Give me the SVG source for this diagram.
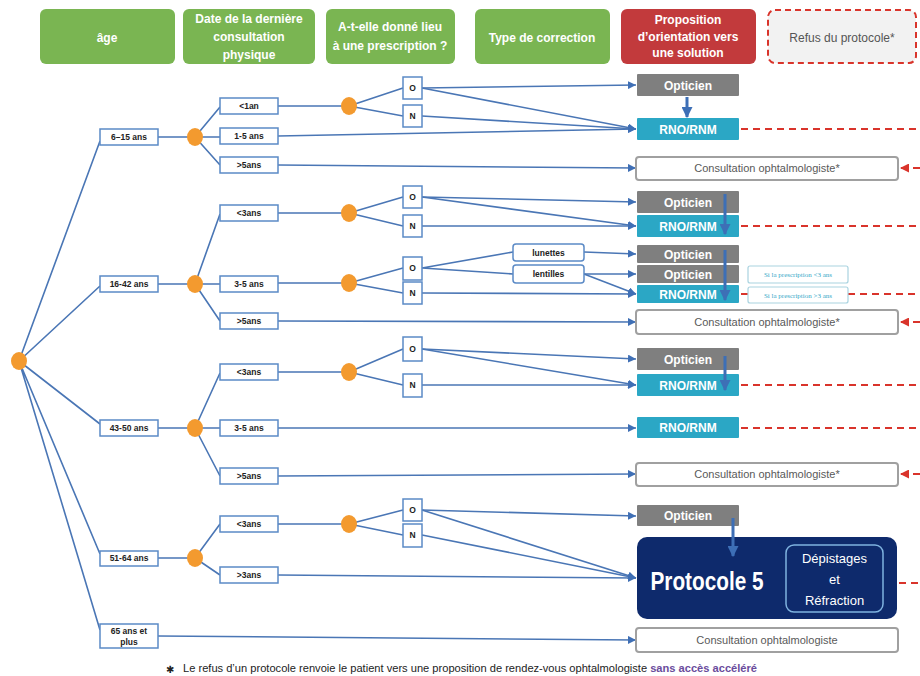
<svg xmlns="http://www.w3.org/2000/svg" width="920" height="676" viewBox="0 0 920 676">
<defs>
<style>
.hg{fill:#7ab552}
.ht{font-family:"Liberation Sans",Arial,sans-serif;font-weight:bold;font-size:12px;fill:#fff;text-anchor:middle}
.c{stroke:#4a76b5;stroke-width:1.6;fill:none}
.ca{stroke:#4a76b5;stroke-width:1.6;fill:none;marker-end:url(#ab)}
.va{stroke:#3d6fb6;stroke-width:3;fill:none;marker-end:url(#abig)}
.rd{stroke:#d9342b;stroke-width:2;fill:none;stroke-dasharray:7 5}
.rda{stroke:#d9342b;stroke-width:2;fill:none;stroke-dasharray:7 5;marker-end:url(#ar)}
.bx{fill:#fff;stroke:#5b8ac6;stroke-width:1.5}
.rbx{fill:#fff;stroke:#5b8ac6;stroke-width:1.5}
.dot{fill:#f39a2f}
.t{font-family:"Liberation Sans",Arial,sans-serif;font-weight:bold;font-size:8.5px;fill:#222;text-anchor:middle}
.opt{fill:#7f7f7f}
.rno{fill:#2ba7c5}
.wt{font-family:"Liberation Sans",Arial,sans-serif;font-weight:bold;font-size:12px;fill:#fff;text-anchor:middle}
.cons{fill:#fff;stroke:#a0a0a0;stroke-width:2}
.ct{font-family:"Liberation Sans",Arial,sans-serif;font-size:11px;fill:#595959;text-anchor:middle}
.si{fill:#fff;stroke:#a9d3e0;stroke-width:1.2}
.st{font-family:"Liberation Serif",serif;font-size:7px;fill:#35a8c8;text-anchor:middle}
</style>
<marker id="ab" viewBox="0 0 10 10" refX="10" refY="5" markerWidth="8" markerHeight="8" markerUnits="userSpaceOnUse" orient="auto"><path d="M0,0 L10,5 L0,10 z" fill="#3f6fb5"/></marker>
<marker id="abig" viewBox="0 0 10 10" refX="9" refY="5" markerWidth="11" markerHeight="11" markerUnits="userSpaceOnUse" orient="auto"><path d="M0,0 L10,5 L0,10 z" fill="#3d6fb6"/></marker>
<marker id="ar" viewBox="0 0 10 10" refX="10" refY="5" markerWidth="9" markerHeight="9" markerUnits="userSpaceOnUse" orient="auto"><path d="M0,0 L10,5 L0,10 z" fill="#d9342b"/></marker>
</defs>
<rect width="920" height="676" fill="#fff"/>

<!-- headers -->
<g id="h-age"><rect class="hg" x="40" y="9" width="135" height="55" rx="6"/><text class="ht" x="107" y="42">âge</text></g>
<g id="h-date"><rect class="hg" x="183" y="9" width="132" height="55" rx="6"/><text class="ht" x="249" y="23">Date de la dernière</text><text class="ht" x="249" y="41">consultation</text><text class="ht" x="249" y="59">physique</text></g>
<g id="h-presc"><rect class="hg" x="326" y="9" width="129" height="55" rx="6"/><text class="ht" x="390" y="31">A-t-elle donné lieu</text><text class="ht" x="390" y="50">à une prescription ?</text></g>
<g id="h-type"><rect class="hg" x="475" y="9" width="135" height="55" rx="6"/><text class="ht" x="542" y="42">Type de correction</text></g>
<g id="h-prop"><rect x="621" y="9" width="135" height="55" rx="6" fill="#c23a3c"/><text class="ht" x="688" y="24">Proposition</text><text class="ht" x="688" y="41">d’orientation vers</text><text class="ht" x="688" y="57">une solution</text></g>
<g id="h-refus"><rect x="768" y="10" width="148" height="53" rx="7" fill="#f2f2f2" stroke="#d9342b" stroke-width="2" stroke-dasharray="6 4"/><text x="842" y="42" font-family="Liberation Sans,Arial,sans-serif" font-size="12" fill="#555" text-anchor="middle">Refus du protocole*</text></g>

<!-- connectors -->
<g id="connectors">
<path class="c" d="M19,361 L100,141 M19,361 L100,286 M19,361 L100,424 M19,361 L100,554 M19,361 L100,630"/>
<path class="c" d="M158,137 H195 M158,284 H195 M158,428 H195 M158,558 H195"/>
<path class="c" d="M195,137 L220,107 M195,137 H220 M195,137 L220,165"/>
<path class="c" d="M195,284 L220,214 M195,284 H220 M195,284 L220,321"/>
<path class="c" d="M195,428 L220,373 M195,428 H220 M195,428 L220,476"/>
<path class="c" d="M195,558 L220,524 M195,558 L220,575"/>
<path class="c" d="M278,106 H349 M278,213 H349 M278,283 H349 M278,372 H349 M278,524 H349"/>
<path class="c" d="M349,106 L403,88 M349,106 L403,116 M349,213 L403,197 M349,213 L403,226 M349,283 L403,268 M349,283 L403,293 M349,372 L403,349 M349,372 L403,385 M349,524 L403,510 M349,524 L403,535"/>
<path class="ca" d="M422,88 L636,85"/>
<path class="ca" d="M422,88 L636,129"/>
<path class="ca" d="M422,116 L636,129"/>
<path class="ca" d="M278,136 L636,129"/>
<path class="ca" d="M278,165 L636,168"/>
<path class="ca" d="M422,197 L636,202"/>
<path class="ca" d="M422,197 L636,226"/>
<path class="ca" d="M422,226 L636,226"/>
<path class="c" d="M422,268 L513,252 M422,268 L513,274"/>
<path class="ca" d="M584,252 L636,254"/>
<path class="ca" d="M584,274 L636,274"/>
<path class="ca" d="M584,274 L636,294"/>
<path class="ca" d="M422,293 L636,294"/>
<path class="ca" d="M278,321 L636,322"/>
<path class="ca" d="M422,349 L636,359"/>
<path class="ca" d="M422,349 L636,385"/>
<path class="ca" d="M422,385 L636,385"/>
<path class="ca" d="M278,428 L636,428"/>
<path class="ca" d="M278,476 L636,474"/>
<path class="ca" d="M422,510 L636,516"/>
<path class="ca" d="M422,510 L636,578"/>
<path class="ca" d="M422,535 L636,578"/>
<path class="ca" d="M278,575 L636,578"/>
<path class="ca" d="M158,636 L636,640"/>
<path class="rd" d="M741,129 H920 M741,226 H920 M741,294 H748 M848,294 H920 M741,385 H920 M741,428 H920 M899,583 H920"/>
<path class="rda" d="M920,168 H900"/>
<path class="rda" d="M920,322 H900"/>
<path class="rda" d="M920,474 H900"/>
</g>

<!-- root & level nodes -->
<g id="root"><ellipse class="dot" cx="19" cy="361" rx="8" ry="9"/></g>
<g id="a1"><rect class="bx" x="100" y="129" width="58" height="16"/><text class="t" x="129" y="140">6–15 ans</text></g>
<g id="a2"><rect class="bx" x="100" y="276" width="58" height="16"/><text class="t" x="129" y="287">16-42 ans</text></g>
<g id="a3"><rect class="bx" x="100" y="420" width="58" height="16"/><text class="t" x="129" y="431">43-50 ans</text></g>
<g id="a4"><rect class="bx" x="100" y="551" width="58" height="15"/><text class="t" x="129" y="561">51-64 ans</text></g>
<g id="a5"><rect class="bx" x="100" y="624" width="58" height="24"/><text class="t" x="129" y="634">65 ans et</text><text class="t" x="129" y="645">plus</text></g>

<g id="d1"><ellipse class="dot" cx="195" cy="137" rx="8" ry="9"/></g>
<g id="d2"><ellipse class="dot" cx="195" cy="284" rx="8" ry="9"/></g>
<g id="d3"><ellipse class="dot" cx="195" cy="428" rx="8" ry="9"/></g>
<g id="d4"><ellipse class="dot" cx="195" cy="558" rx="8" ry="9"/></g>

<g id="b1"><rect class="bx" x="220" y="98" width="58" height="16"/><text class="t" x="249" y="109">&lt;1an</text></g>
<g id="b2"><rect class="bx" x="220" y="128" width="58" height="16"/><text class="t" x="249" y="139">1-5 ans</text></g>
<g id="b3"><rect class="bx" x="220" y="157" width="58" height="16"/><text class="t" x="249" y="168">&gt;5ans</text></g>
<g id="b4"><rect class="bx" x="220" y="205" width="58" height="16"/><text class="t" x="249" y="216">&lt;3ans</text></g>
<g id="b5"><rect class="bx" x="220" y="276" width="58" height="16"/><text class="t" x="249" y="287">3-5 ans</text></g>
<g id="b6"><rect class="bx" x="220" y="313" width="58" height="16"/><text class="t" x="249" y="324">&gt;5ans</text></g>
<g id="b7"><rect class="bx" x="220" y="364" width="58" height="16"/><text class="t" x="249" y="375">&lt;3ans</text></g>
<g id="b8"><rect class="bx" x="220" y="420" width="58" height="16"/><text class="t" x="249" y="431">3-5 ans</text></g>
<g id="b9"><rect class="bx" x="220" y="468" width="58" height="16"/><text class="t" x="249" y="479">&gt;5ans</text></g>
<g id="b10"><rect class="bx" x="220" y="516" width="58" height="16"/><text class="t" x="249" y="527">&lt;3ans</text></g>
<g id="b11"><rect class="bx" x="220" y="567" width="58" height="16"/><text class="t" x="249" y="578">&gt;3ans</text></g>

<g id="e1"><ellipse class="dot" cx="349" cy="106" rx="8" ry="9"/></g>
<g id="e2"><ellipse class="dot" cx="349" cy="213" rx="8" ry="9"/></g>
<g id="e3"><ellipse class="dot" cx="349" cy="283" rx="8" ry="9"/></g>
<g id="e4"><ellipse class="dot" cx="349" cy="372" rx="8" ry="9"/></g>
<g id="e5"><ellipse class="dot" cx="349" cy="524" rx="8" ry="9"/></g>

<g id="o1"><rect class="bx" x="403" y="77" width="19" height="22"/><text class="t" x="412.5" y="91">O</text></g>
<g id="n1"><rect class="bx" x="403" y="105" width="19" height="22"/><text class="t" x="412.5" y="119">N</text></g>
<g id="o2"><rect class="bx" x="403" y="186" width="19" height="22"/><text class="t" x="412.5" y="200">O</text></g>
<g id="n2"><rect class="bx" x="403" y="215" width="19" height="22"/><text class="t" x="412.5" y="229">N</text></g>
<g id="o3"><rect class="bx" x="403" y="257" width="19" height="23"/><text class="t" x="412.5" y="271">O</text></g>
<g id="n3"><rect class="bx" x="403" y="282" width="19" height="22"/><text class="t" x="412.5" y="296">N</text></g>
<g id="o4"><rect class="bx" x="403" y="337" width="19" height="24"/><text class="t" x="412.5" y="352">O</text></g>
<g id="n4"><rect class="bx" x="403" y="374" width="19" height="23"/><text class="t" x="412.5" y="388">N</text></g>
<g id="o5"><rect class="bx" x="403" y="499" width="19" height="22"/><text class="t" x="412.5" y="513">O</text></g>
<g id="n5"><rect class="bx" x="403" y="524" width="19" height="23"/><text class="t" x="412.5" y="538">N</text></g>

<g id="lunettes"><rect class="rbx" x="513" y="244" width="71" height="17" rx="3"/><text class="t" x="548.5" y="255.5">lunettes</text></g>
<g id="lentilles"><rect class="rbx" x="513" y="265" width="71" height="18" rx="3"/><text class="t" x="548.5" y="277">lentilles</text></g>

<!-- solutions -->
<g id="opt1"><rect class="opt" x="637" y="74" width="102" height="22" rx="1"/><text class="wt" x="688" y="89.5">Opticien</text></g>
<g id="rno1"><rect class="rno" x="637" y="118" width="102" height="22" rx="1"/><text class="wt" x="688" y="133.5">RNO/RNM</text></g>
<g id="cons1"><rect class="cons" x="636" y="157" width="262" height="23" rx="3"/><text class="ct" x="767" y="172">Consultation ophtalmologiste*</text></g>
<g id="opt2"><rect class="opt" x="637" y="191" width="102" height="22" rx="1"/><text class="wt" x="688" y="206.5">Opticien</text></g>
<g id="rno2"><rect class="rno" x="637" y="215" width="102" height="22" rx="1"/><text class="wt" x="688" y="230.5">RNO/RNM</text></g>
<g id="opt3"><rect class="opt" x="637" y="245" width="102" height="18" rx="1"/><text class="wt" x="688" y="258.5">Opticien</text></g>
<g id="opt4"><rect class="opt" x="637" y="265" width="102" height="18" rx="1"/><text class="wt" x="688" y="278.5">Opticien</text></g>
<g id="rno3"><rect class="rno" x="637" y="285" width="102" height="18" rx="1"/><text class="wt" x="688" y="298.5">RNO/RNM</text></g>
<g id="si1"><rect class="si" x="748" y="266" width="100" height="17" rx="2"/><text class="st" x="798" y="277">Si la prescription &lt;3 ans</text></g>
<g id="si2"><rect class="si" x="748" y="287" width="100" height="16" rx="2"/><text class="st" x="798" y="297.5">Si la prescription &gt;3 ans</text></g>
<g id="cons2"><rect class="cons" x="636" y="310" width="262" height="24" rx="3"/><text class="ct" x="767" y="326">Consultation ophtalmologiste*</text></g>
<g id="opt5"><rect class="opt" x="637" y="348" width="102" height="22" rx="1"/><text class="wt" x="688" y="363.5">Opticien</text></g>
<g id="rno4"><rect class="rno" x="637" y="374" width="102" height="22" rx="1"/><text class="wt" x="688" y="389.5">RNO/RNM</text></g>
<g id="rno5"><rect class="rno" x="637" y="417" width="102" height="21" rx="1"/><text class="wt" x="688" y="432">RNO/RNM</text></g>
<g id="cons3"><rect class="cons" x="636" y="463" width="262" height="23" rx="3"/><text class="ct" x="767" y="478">Consultation ophtalmologiste*</text></g>
<g id="opt6"><rect class="opt" x="637" y="505" width="102" height="21" rx="1"/><text class="wt" x="688" y="520">Opticien</text></g>
<g id="proto5"><rect x="637" y="537" width="260" height="82" rx="10" fill="#0e2a6c"/><text x="707" y="590" font-family="Liberation Sans,Arial,sans-serif" font-size="25" font-weight="bold" fill="#fff" text-anchor="middle" textLength="113" lengthAdjust="spacingAndGlyphs">Protocole 5</text><rect x="786" y="545" width="97" height="67" rx="8" fill="none" stroke="#7fb3e0" stroke-width="1.5"/><text font-family="Liberation Sans,Arial,sans-serif" font-size="13" fill="#fff" text-anchor="middle"><tspan x="834.5" y="563">Dépistages</tspan><tspan x="834.5" y="584">et</tspan><tspan x="834.5" y="605">Réfraction</tspan></text></g>
<g id="cons4"><rect class="cons" x="636" y="628" width="262" height="24" rx="3"/><text class="ct" x="767" y="644">Consultation ophtalmologiste</text></g>

<!-- vertical arrows -->
<g id="varrows">
<path class="va" d="M687,97 V117"/>
<path class="va" d="M725,194 V234"/>
<path class="va" d="M725,250 V300"/>
<path class="va" d="M725,356 V390"/>
<path class="va" d="M733,518 V556"/>
</g>

<!-- footnote -->
<g id="footnote">
<text x="166" y="673" font-family="DejaVu Sans,sans-serif" font-size="10" fill="#222">✱</text>
<text x="183" y="672" font-family="Liberation Sans,Arial,sans-serif" font-size="10.5" fill="#222" textLength="574" lengthAdjust="spacingAndGlyphs">Le refus d’un protocole renvoie le patient vers une proposition de rendez-vous ophtalmologiste <tspan font-weight="bold" fill="#6a4c9c">sans accès accéléré</tspan></text>
</g>
</svg>
